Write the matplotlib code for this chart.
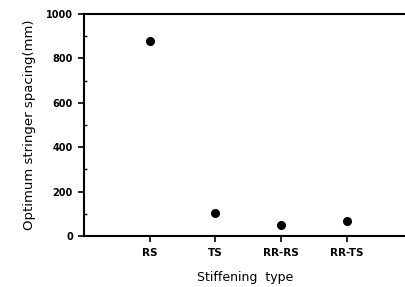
import numpy as np
import matplotlib.pyplot as plt
from matplotlib.ticker import MultipleLocator

# stiffening types and optimum spacing
types = ['RS', 'TS', 'RR-RS', 'RR-TS']
spacing = [880, 105, 47, 68]

fig = plt.figure(figsize=(4.06, 2.87), dpi=100)
ax = fig.add_axes([0.207, 0.178, 0.793, 0.773])

pos = np.arange(1, len(types) + 1)
ax.plot(pos, spacing, 'o', color='black', markersize=5.5)

ax.set_xlim(0, 4.9)
ax.set_ylim(0, 1000)
ax.set_xticks(pos)
ax.set_xticklabels(types, fontsize=7.5, fontweight='bold')
ax.set_yticks(np.arange(0, 1001, 200))
ax.yaxis.set_minor_locator(MultipleLocator(100))
for lab in ax.get_yticklabels():
    lab.set_fontsize(7)
    lab.set_fontweight('bold')

ax.tick_params(axis='y', which='major', direction='out', length=4, width=1.2, pad=4)
ax.tick_params(axis='y', which='minor', direction='in', length=2, width=1)
ax.tick_params(axis='x', which='major', direction='out', length=4, width=1.2, pad=5)

ax.spines['right'].set_visible(False)
for s in ['left', 'top', 'bottom']:
    ax.spines[s].set_linewidth(1.5)

ax.set_xlabel('Stiffening  type', fontsize=9, labelpad=9)
ax.set_ylabel('Optimum stringer spacing(mm)', fontsize=9.5, labelpad=7)

fig.savefig('out.png', dpi=100)
